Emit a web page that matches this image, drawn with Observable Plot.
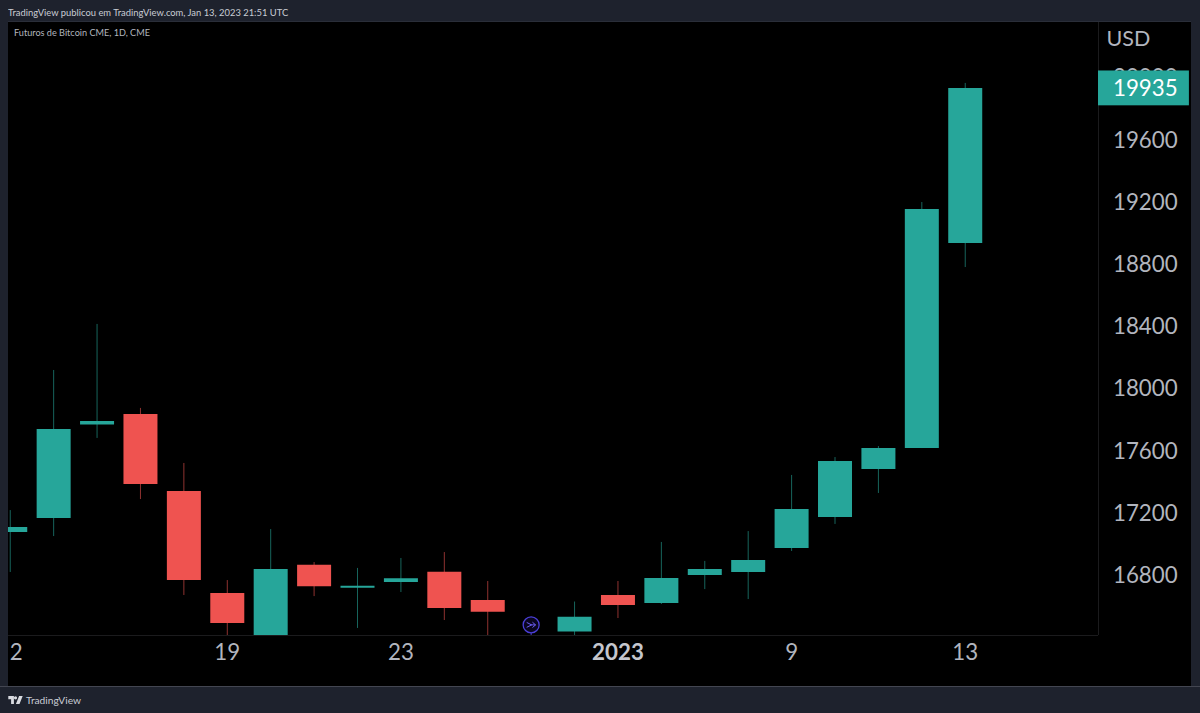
<!DOCTYPE html>
<html lang="pt">
<head>
<meta charset="utf-8">
<script src="https://cdn.jsdelivr.net/npm/d3@7"></script>
<script src="https://cdn.jsdelivr.net/npm/@observablehq/plot@0.6"></script>
<style>
  html, body { margin: 0; padding: 0; background: #1e222d; width: 1200px; height: 713px; overflow: hidden; }
  body { font-family: Lato, sans-serif; color: #c9ccd4; }
  #head { height: 21px; line-height: 24px; padding-left: 8px; font-size: 10.2px; white-space: nowrap; }
  #head span { display: inline-block; transform: scaleX(.921); transform-origin: left center; }
  #chart { margin-left: 8px; width: 1183px; height: 664px; border-top: 1px solid #2a2e39; position: relative; background: #000; }
  #chart svg { display: block; position:absolute; left:0; top:0; }
  #legend { position: absolute; left: 6px; top: 5px; font-size: 9.6px; color: #b2b5be; z-index: 2; transform: scaleX(.951); transform-origin: left center; }
  #foot { height: 27px; display: flex; align-items: center; padding-left: 8px; font-size: 10.2px; color: #c9ccd4; border-top: 1px solid #434651; box-sizing: border-box; }
  #foot svg { margin-right: 3px; }
</style>
</head>
<body>
<div id="head"><span>TradingView publicou em TradingView.com, Jan 13, 2023 21:51 UTC</span></div>
<div id="chart"><div id="legend">Futuros de Bitcoin CME, 1D, CME</div></div>
<div id="foot"><svg width="15" height="8" viewBox="0 0 36 20"><path fill="#d9dbe0" d="M14 20H7V8H0V0h14zM28 20h-9l8-20h9zM22 4.500a4 4 0 1 1-8 0a4 4 0 1 1 8 0z"/></svg>TradingView</div>
<script>
// Session positions on the chart (trading days, Dec 12 2022 – Jan 13 2023)
const sessions = [0, 1, 2, 3, 4, 5, 6, 7, 8, 9, 10, 11, 13, 14, 15, 16, 17, 18, 19, 20, 21, 22];
const opens  = [17079, 17169, 17770, 17838, 17343, 16687, 16380, 16869, 16721, 16757, 16824, 16642, 16440, 16674, 16622, 16803, 16822, 16976, 17176, 17484, 17619, 18938];
const closes = [17111, 17741, 17793, 17388, 16770, 16494, 16841, 16730, 16734, 16781, 16590, 16566, 16534, 16610, 16783, 16841, 16899, 17227, 17536, 17619, 19156, 19935];
const highs  = [17220, 18121, 18417, 17877, 17523, 16770, 17098, 16886, 16848, 16912, 16950, 16764, 16632, 16764, 17015, 16893, 17085, 17446, 17561, 17632, 19201, 19967];
const lows   = [16822, 17053, 17684, 17291, 16674, 16400, 16350, 16667, 16462, 16693, 16513, 16400, 16400, 16526, 16616, 16712, 16648, 16957, 17131, 17330, 17619, 18783];

const priceTicks = [16800, 17200, 17600, 18000, 18400, 18800, 19200, 19600, 20000];
const timeTicks  = [0.14, 5, 9, 18, 22];
const timeLabels = ["2", "19", "23", "9", "13"];
const yearTick   = 14;
const yearLabel  = "2023";
const lastPrice  = 19935;
const eventSession = 12;
const eventPrice = 16485;
const unitLabel  = "USD";

const xDomain = [-0.04, 25.07];
const yDomain = [16416.7, 20358.8];
const teal = "#26a69a", red = "#ef5350", axisText = "#b2b5be", gridLine = "#1b1b1d";

const candles = sessions.map((x, i) => ({x, open: opens[i], close: closes[i], high: highs[i], low: lows[i]}));
const col = d => d.close >= d.open ? teal : red;

// little arrow glyph for the event marker
const arrowSymbol = {draw(c, size) {
  const s = Math.sqrt(size) / 2;
  c.moveTo(-s, -s * 0.55); c.lineTo(s * 0.1, 0); c.lineTo(-s, s * 0.55);
  c.moveTo(-s * 0.2, 0); c.lineTo(s, 0);
  c.moveTo(s * 0.3, -s * 0.6); c.lineTo(s, 0); c.lineTo(s * 0.3, s * 0.6);
}};

const plot = Plot.plot({
  width: 1183, height: 663,
  marginLeft: 0, marginRight: 93, marginTop: 0, marginBottom: 50,
  style: {background: "#000", fontFamily: "Lato, sans-serif", overflow: "visible"},
  x: {type: "linear", domain: xDomain},
  y: {type: "linear", domain: yDomain},
  marks: [
    Plot.ruleY([yDomain[0]], {stroke: gridLine}),
    Plot.ruleX([xDomain[1]], {stroke: gridLine, y1: yDomain[0], y2: yDomain[1] }),
    Plot.ruleX(candles, {x: "x", y1: "low", y2: "high", stroke: col, strokeWidth: 1, strokeOpacity: 0.6, clip: true}),
    Plot.ruleX(candles, {x: "x", y1: "open", y2: "close", stroke: col, strokeWidth: 34, clip: true}),
    Plot.ruleX([eventSession], {y1: yDomain[0], y2: eventPrice, stroke: "#4b3fd8", strokeWidth: 1}),
    Plot.dot([{x: eventSession, y: eventPrice}], {x: "x", y: "y", r: 8, stroke: "#4b3fd8", strokeWidth: 1.3, fill: "#0a0620"}),
    Plot.dot([{x: eventSession, y: eventPrice}], {x: "x", y: "y", r: 5, symbol: arrowSymbol, stroke: "#6a5cf0", strokeWidth: 1, fill: "none"}),
    Plot.axisY({anchor: "right", ticks: priceTicks, tickFormat: "d", tickSize: 0, tickPadding: 14.500, label: null, fontSize: 22.3, color: axisText, textAnchor: "start"}),
    Plot.axisX({anchor: "bottom", ticks: timeTicks, tickFormat: d => timeLabels[timeTicks.indexOf(d)], tickSize: 0, tickPadding: 9, label: null, fontSize: 22.3, color: axisText}),
    Plot.axisX({anchor: "bottom", ticks: [yearTick], tickFormat: () => yearLabel, tickSize: 0, tickPadding: 9, label: null, fontSize: 22.3, fontWeight: 700, color: "#c4c6cd"}),
    Plot.text([unitLabel], {x: () => xDomain[1], y: () => 20249, text: d => d, dx: 8, textAnchor: "start", fontSize: 21.5, fill: axisText}),
    Plot.rect([lastPrice], {x1: () => xDomain[1], x2: () => xDomain[1] + 2.094, y1: () => lastPrice - 112, y2: () => lastPrice + 112, fill: teal}),
    Plot.text([lastPrice], {x: () => xDomain[1], y: d => d, text: d => String(d), dx: 14.500, textAnchor: "start", fontSize: 22.3, fontWeight: 400, fill: "#fff"})
  ]
});
document.getElementById("chart").appendChild(plot);
</script>
</body>
</html>
